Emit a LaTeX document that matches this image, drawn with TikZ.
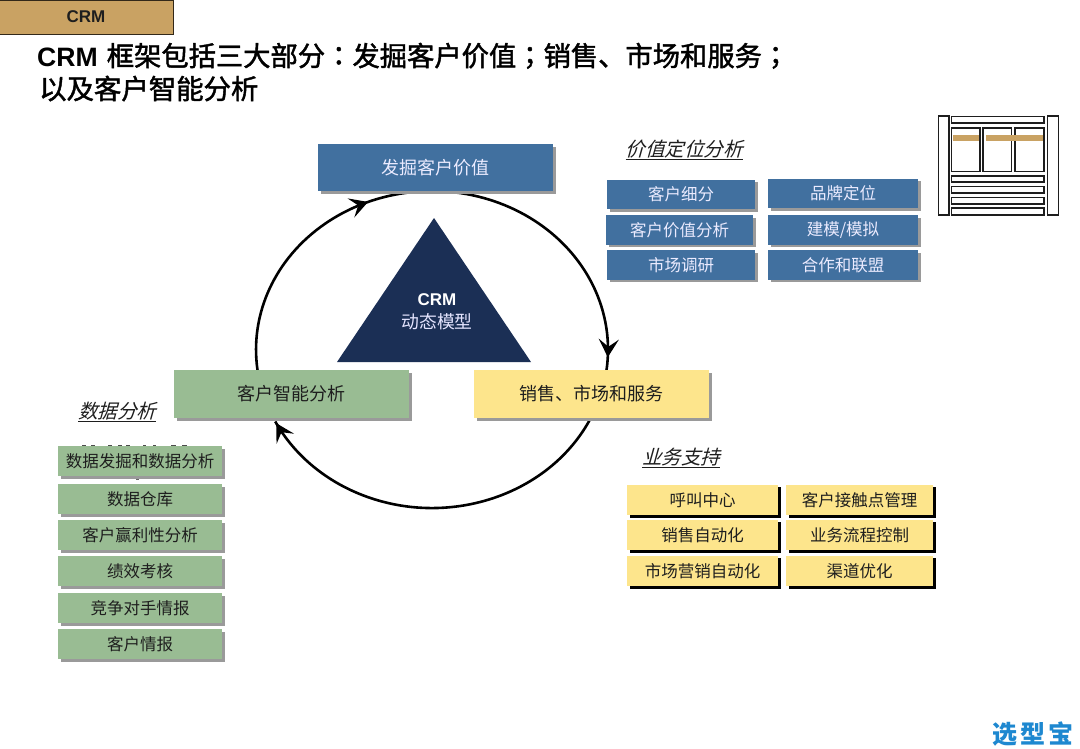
\documentclass[tikz,border=0pt]{standalone}
\usepackage{fontspec}
\setmainfont{Noto Sans CJK SC}
\newfontfamily\latinbold[BoldFont={Liberation Sans Bold}]{Liberation Sans}
\newfontfamily\cjkslant[FakeSlant=0.28]{Noto Sans CJK SC}
\newfontfamily\cjkmedium[FakeBold=1.6]{Noto Sans CJK SC}
\newfontfamily\cjkmedpunct[FakeBold=1.6]{Noto Sans CJK TC}
\usetikzlibrary{arrows.meta,shadows,decorations.markings}
\definecolor{tabtan}{HTML}{C9A263}
\definecolor{bluebox}{HTML}{41709F}
\definecolor{greenbox}{HTML}{99BC93}
\definecolor{yellowbox}{HTML}{FDE58C}
\definecolor{navytri}{HTML}{1B2F55}
\definecolor{softgray}{HTML}{9A9A9A}
\definecolor{inktext}{HTML}{1E1E1E}
\definecolor{logoblue}{HTML}{1E88D0}
\newcommand{\fsz}[1]{\fontsize{#1}{#1}\selectfont}
\newcommand{\crm}{{\latinbold\bfseries CRM}}
\newcommand{\ringhead}{\arrow{Stealth[length=18pt,width=20pt,inset=7.5pt]}}
\tikzset{
  plainbox/.style={rectangle,inner sep=0pt,anchor=center},
  softshadow/.style={general shadow={fill=softgray,shadow xshift=2.5pt,shadow yshift=-2.5pt}},
  hardshadow/.style={general shadow={fill=black,shadow xshift=2.5pt,shadow yshift=-2.5pt}},
  mainblue/.style={plainbox,softshadow,fill=bluebox,text=white!92!blue,font=\fsz{18},minimum width=235pt,minimum height=47pt},
  maingreen/.style={plainbox,softshadow,fill=greenbox,text=inktext,font=\fsz{18},minimum width=235pt,minimum height=48pt},
  mainyellow/.style={plainbox,softshadow,fill=yellowbox,text=inktext,font=\fsz{18},minimum width=235pt,minimum height=48pt},
  bluecell/.style={plainbox,softshadow,fill=bluebox,text=white!92!blue,font=\fsz{16.5},minimum height=29.5pt},
  greencell/.style={plainbox,softshadow,fill=greenbox,text=inktext,font=\fsz{16.5},minimum width=164pt,minimum height=30pt},
  yellowcell/.style={plainbox,hardshadow,fill=yellowbox,text=inktext,font=\fsz{16.5},minimum height=30.5pt},
  heading/.style={inner sep=0pt,text=inktext,font=\cjkslant\fsz{19.5}},
  ringline/.style={line width=2.6pt,draw=black},
  iconcell/.style={draw=inktext,line width=1.8pt,fill=white},
}
\begin{document}
\begin{tikzpicture}[x=1pt,y=-1pt]
\useasboundingbox (0,0) rectangle (1080,748);
\fill[white] (0,0) rectangle (1080,748);

% ring endpoints
\coordinate (r1s) at (257.5,370);
\coordinate (r2s) at (432,191);
\coordinate (r3s) at (589.7,420);

% ring
\draw[ringline,postaction={decorate},decoration={markings,mark=at position 0.77 with {\ringhead}}]
  (r1s) arc[start angle=187.4,end angle=90,x radius=176pt,y radius=158.5pt];
\draw[ringline,postaction={decorate},decoration={markings,mark=at position 0.955 with {\ringhead}}]
  (r2s) arc[start angle=90,end angle=-7.4,x radius=176pt,y radius=158.5pt];
\draw[ringline,postaction={decorate},decoration={markings,mark=at position 0.995 with {\ringhead}}]
  (r3s) arc[start angle=-26.4,end angle=-153,x radius=176pt,y radius=158.5pt];

% tab and title
\node[plainbox,draw=black!75!tabtan,line width=1pt,fill=tabtan,minimum width=174pt,minimum height=34pt,font=\fsz{17},text=inktext] (tab) at (86,17) {\crm};
\node[inner sep=0pt,anchor=base west,font=\cjkmedium\fsz{27.3},text=black] (title1) at (37,66)
  {{\latinbold\bfseries\fsz{26.6}CRM}\hspace{9pt}框架包括三大部分{\cjkmedpunct ：}发掘客户价值{\cjkmedpunct ；}销售、市场和服务{\cjkmedpunct ；}};
\node[inner sep=0pt,anchor=base west,font=\cjkmedium\fsz{27.4},text=black] (title2) at (39,99) {以及客户智能分析};

% triangle
\fill[navytri] (434,218) -- (531,362) -- (337,362) -- cycle;
\node[inner sep=0pt,font=\fsz{17},text=white] (tricrm) at (437,300) {\crm};
\node[inner sep=0pt,font=\fsz{17.8},text=white!90!blue] (trilabel) at (437,322) {动态模型};

% main boxes
\node[mainblue] (discover) at (435.5,167.5) {发掘客户价值};
\node[maingreen] (insight) at (291.5,394) {客户智能分析};
\node[mainyellow] (sales) at (591.5,394) {销售、市场和服务};

% blue group
\node[heading] (hvalue) at (684,150) {\underline{价值定位分析}};
\node[bluecell,minimum width=148pt] (b1) at (681,194.5) {客户细分};
\node[bluecell,minimum width=147pt] (b2) at (679.5,230) {客户价值分析};
\node[bluecell,minimum width=148pt] (b3) at (681,265) {市场调研};
\node[bluecell,minimum width=150pt] (b4) at (843,193.5) {品牌定位};
\node[bluecell,minimum width=150pt] (b5) at (843,230) {建模/模拟};
\node[bluecell,minimum width=150pt] (b6) at (843,265) {合作和联盟};

% green group
\node[heading] (hdata) at (117,412) {\underline{数据分析}};
\foreach \xa/\xb in {82/86,91/95,108/112,118/122,126/130,143/146,153/156,171/176,182/187}
  \fill[black!70] (\xa,444.6) rectangle (\xb,446);
\fill[black!60] (136,477.5) rectangle (139,480);
\node[greencell] (g1) at (140,461) {数据发掘和数据分析};
\node[greencell] (g2) at (140,499) {数据仓库};
\node[greencell] (g3) at (140,535) {客户赢利性分析};
\node[greencell] (g4) at (140,571) {绩效考核};
\node[greencell] (g5) at (140,608) {竞争对手情报};
\node[greencell] (g6) at (140,644) {客户情报};

% yellow group
\node[heading] (hbiz) at (681,458) {\underline{业务支持}};
\node[yellowcell,minimum width=151pt] (y1) at (702.5,500) {呼叫中心};
\node[yellowcell,minimum width=151pt] (y2) at (702.5,535) {销售自动化};
\node[yellowcell,minimum width=151pt] (y3) at (702.5,571) {市场营销自动化};
\node[yellowcell,minimum width=147pt] (y4) at (859.5,500) {客户接触点管理};
\node[yellowcell,minimum width=147pt] (y5) at (859.5,535) {业务流程控制};
\node[yellowcell,minimum width=147pt] (y6) at (859.5,571) {渠道优化};

% icon
\draw[iconcell] (938.5,116) rectangle (949,215);
\draw[iconcell] (1047.5,116) rectangle (1058.5,215);
\draw[iconcell] (951.5,116.5) rectangle (1044,123);
\draw[iconcell] (951.5,128) rectangle (980,171.5);
\draw[iconcell] (983,128) rectangle (1011.5,171.5);
\draw[iconcell] (1015,128) rectangle (1044,171.5);
\fill[tabtan] (952.5,135) rectangle (979,141);
\fill[tabtan] (986,135) rectangle (1043,141);
\draw[iconcell] (951.5,176) rectangle (1044,182);
\draw[iconcell] (951.5,186.5) rectangle (1044,193);
\draw[iconcell] (951.5,197.5) rectangle (1044,204);
\draw[iconcell] (951.5,208) rectangle (1044,215);

% logo
\node[inner sep=0pt,font=\fsz{25}\bfseries,text=logoblue] (logo) at (1032.5,734) {选\hspace{3pt}型\hspace{3pt}宝};
\end{tikzpicture}
\end{document}
